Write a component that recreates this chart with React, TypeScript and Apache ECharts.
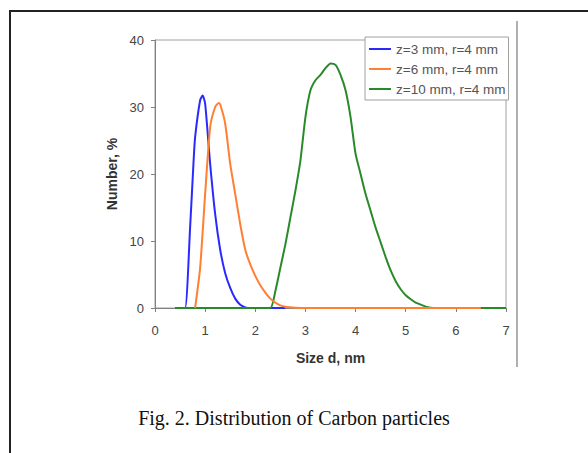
import React, { useEffect, useRef } from "react";
import * as echarts from "echarts";

const seriesNames = ["z=3 mm, r=4 mm", "z=6 mm, r=4 mm", "z=10 mm, r=4 mm"];
const seriesColors = ["#2a2aff", "#ff7f33", "#2a8a2a"];

const blueData: [number, number][] = [
  [0.4, 0], [0.5, 0], [0.6, 0], [0.7, 12], [0.77, 22], [0.8, 25.5], [0.9, 31], [0.95, 31.7], [1.0, 30.5],
  [1.1, 21.5], [1.2, 14], [1.3, 8.7], [1.4, 5.2], [1.5, 3], [1.6, 1.4], [1.7, 0.5],
  [1.8, 0.1], [1.9, 0], [2.0, 0], [2.2, 0], [2.4, 0], [2.6, 0],
];

const orangeData: [number, number][] = [
  [0.8, 0], [0.9, 6], [1.0, 17], [1.1, 27], [1.2, 30], [1.27, 30.6], [1.3, 30.4],
  [1.4, 27.5], [1.5, 21.5], [1.6, 17], [1.7, 12.5], [1.8, 8.7], [1.9, 6.5],
  [2.0, 4.8], [2.1, 3.4], [2.2, 2.3], [2.3, 1.4], [2.4, 0.8], [2.5, 0.4],
  [2.6, 0.2], [2.8, 0.05], [3.0, 0], [4.0, 0], [5.0, 0], [6.0, 0], [6.5, 0],
];

const greenData: [number, number][] = [
  [0.4, 0], [1.0, 0], [1.5, 0], [2.0, 0], [2.3, 0], [2.4, 2.5], [2.5, 6], [2.6, 9.5],
  [2.7, 13.5], [2.8, 17.5], [2.9, 22], [3.0, 28.5], [3.1, 32.5], [3.2, 34], [3.3, 34.8],
  [3.4, 35.8], [3.5, 36.5], [3.6, 36.3], [3.7, 34.8], [3.8, 32.5], [3.9, 28.5],
  [4.0, 23], [4.1, 20], [4.2, 17], [4.3, 14.5], [4.4, 12], [4.5, 9.8], [4.6, 7.6],
  [4.7, 5.6], [4.8, 4], [4.9, 2.8], [5.0, 1.9], [5.1, 1.3], [5.2, 0.8], [5.3, 0.5],
  [5.4, 0.2], [5.5, 0.05], [5.6, 0], [6.0, 0], [6.5, 0], [7.0, 0],
];

const xTitle = "Size d, nm";
const yTitle = "Number, %";
const caption = "Fig. 2. Distribution of Carbon particles";

export default function App() {
  const ref = useRef<HTMLDivElement>(null);
  useEffect(() => {
    if (!ref.current) return;
    const chart = echarts.init(ref.current, null, { renderer: "svg" });
    const datasets = [blueData, orangeData, greenData];
    const zs = [2, 4, 3];
    chart.setOption({
      animation: false,
      backgroundColor: "#ffffff",
      grid: {
        left: 155,
        right: 82,
        top: 40,
        bottom: 145,
        show: true,
        borderColor: "#a0a0a0",
        borderWidth: 1,
      },
      legend: {
        left: 365,
        top: 37,
        orient: "vertical",
        data: seriesNames.map((n, i) => ({ name: n, icon: "rect", itemStyle: { color: seriesColors[i] } })),
        itemWidth: 22,
        itemHeight: 2,
        itemGap: 6,
        padding: [5, 3, 4, 4],
        borderColor: "#a0a0a0",
        borderWidth: 1,
        backgroundColor: "#ffffff",
        textStyle: { fontSize: 13.5, color: "#555", fontFamily: "Liberation Sans" },
      },
      xAxis: {
        type: "value",
        min: 0,
        max: 7,
        interval: 1,
        name: xTitle,
        nameLocation: "middle",
        nameGap: 43,
        nameTextStyle: { fontSize: 14, fontWeight: "bold", color: "#333", fontFamily: "Liberation Sans" },
        axisLine: { show: true, lineStyle: { color: "#808080", width: 1 } },
        axisTick: { show: true, length: 4, lineStyle: { color: "#808080" } },
        axisLabel: { fontSize: 13, color: "#444", margin: 16, fontFamily: "Liberation Sans" },
        splitLine: { show: false },
      },
      yAxis: {
        type: "value",
        min: 0,
        max: 40,
        interval: 10,
        name: yTitle,
        nameLocation: "middle",
        nameGap: 36,
        nameTextStyle: { fontSize: 14, fontWeight: "bold", color: "#333", fontFamily: "Liberation Sans" },
        axisLine: { show: true, lineStyle: { color: "#808080", width: 1 } },
        axisTick: { show: true, length: 4, lineStyle: { color: "#808080" } },
        axisLabel: { fontSize: 13, color: "#444", margin: 11, fontFamily: "Liberation Sans" },
        splitLine: { show: false },
      },
      series: seriesNames.map((n, i) => ({
        name: n,
        type: "line",
        data: datasets[i],
        showSymbol: false,
        symbol: "none",
        smooth: 0.2,
        z: zs[i],
        lineStyle: { color: seriesColors[i], width: 2 },
        itemStyle: { color: seriesColors[i] },
      })),
      graphic: [
        {
          type: "rect",
          shape: { x: 10, y: 11, width: 620, height: 520 },
          style: { fill: "none", stroke: "#222", lineWidth: 2 },
          silent: true,
        },
        {
          type: "line",
          shape: { x1: 517, y1: 21, x2: 517, y2: 367 },
          style: { stroke: "#b0b0b0", lineWidth: 2 },
          silent: true,
        },
        {
          type: "text",
          x: 294,
          y: 418,
          style: {
            text: caption,
            fontSize: 20,
            fontFamily: "Liberation Serif",
            fill: "#111",
            textAlign: "center",
            textVerticalAlign: "middle",
          },
          silent: true,
        },
      ],
    });
    return () => chart.dispose();
  }, []);
  return (
    <div
      ref={ref}
      style={{ position: "fixed", left: 0, top: 0, width: 588, height: 453 }}
    />
  );
}
